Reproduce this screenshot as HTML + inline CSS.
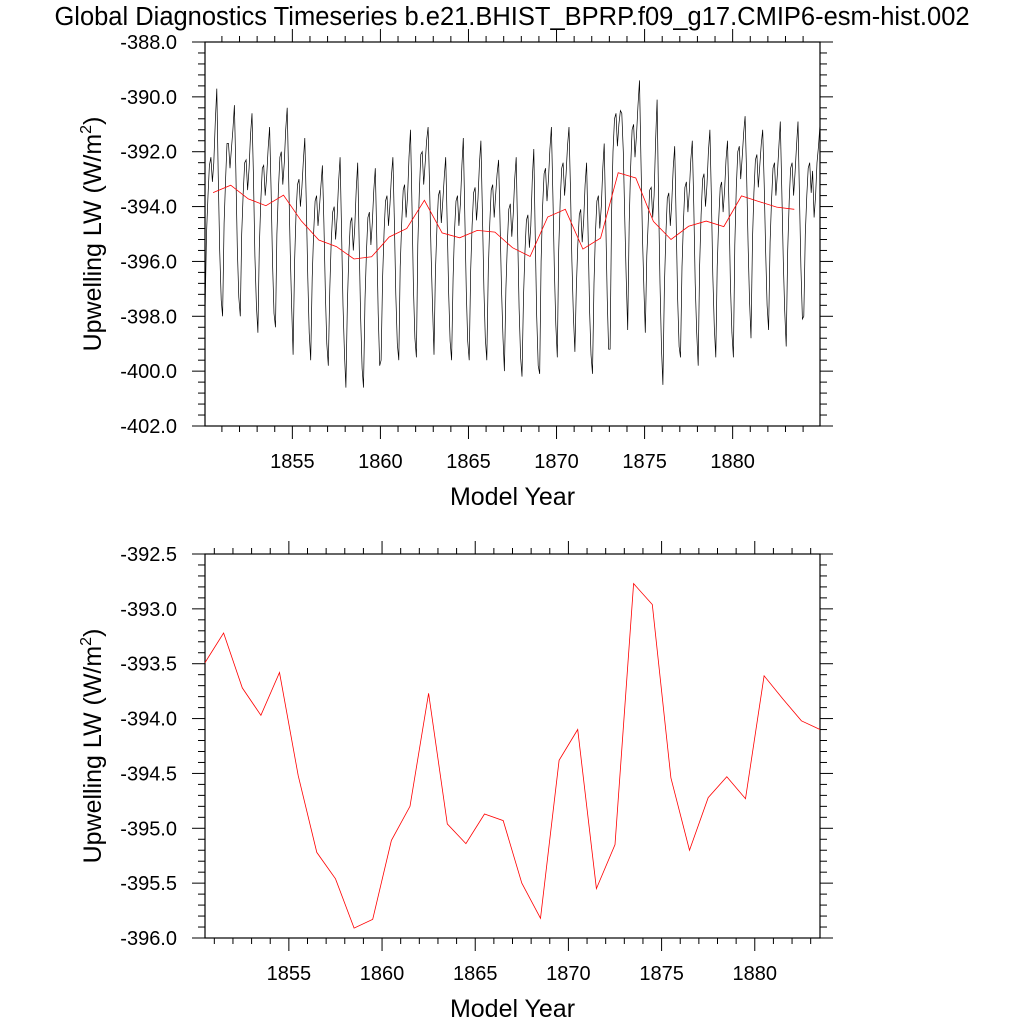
<!DOCTYPE html>
<html><head><meta charset="utf-8">
<style>
html,body{margin:0;padding:0;background:#fff;}
svg text{font-family:"Liberation Sans",sans-serif;fill:#000;}
</style></head>
<body>
<svg id="chart" width="1024" height="1024" viewBox="0 0 1024 1024" xmlns="http://www.w3.org/2000/svg">
<text x="512" y="25" font-size="25.5" text-anchor="middle">Global Diagnostics Timeseries b.e21.BHIST_BPRP.f09_g17.CMIP6-esm-hist.002</text>
<g id="top"></g>
<g id="bot"></g>
</svg>
<script>
const years = [1850,1851,1852,1853,1854,1855,1856,1857,1858,1859,1860,1861,1862,1863,1864,1865,1866,1867,1868,1869,1870,1871,1872,1873,1874,1875,1876,1877,1878,1879,1880,1881,1882,1883,1884];
const monthly = [
[-398.0,-395.0,-393.6,-392.5,-392.2,-393.1,-392.4,-390.9,-389.7,-392.8,-395.6,-397.4],
[-398.0,-394.6,-393.0,-391.7,-391.7,-392.6,-391.9,-391.2,-390.3,-392.6,-395.5,-397.3],
[-398.0,-395.0,-393.5,-392.4,-392.3,-393.4,-392.6,-391.4,-390.6,-393.0,-395.8,-397.6],
[-398.6,-395.5,-393.8,-392.6,-392.5,-393.6,-392.9,-391.9,-391.1,-393.4,-396.0,-397.9],
[-398.4,-395.0,-393.4,-392.2,-392.0,-393.2,-392.4,-391.2,-390.4,-393.0,-395.6,-397.6],
[-399.4,-396.0,-394.3,-393.2,-393.0,-394.0,-393.3,-392.3,-391.5,-393.9,-396.6,-398.6],
[-399.6,-396.6,-395.0,-393.8,-393.6,-394.7,-394.0,-393.2,-392.5,-394.6,-397.2,-399.0],
[-399.8,-397.0,-395.3,-394.2,-394.0,-395.2,-394.4,-393.1,-392.2,-394.8,-397.6,-399.4],
[-400.6,-397.5,-395.7,-394.6,-394.4,-395.6,-394.8,-393.4,-392.4,-395.2,-398.0,-399.9],
[-400.6,-397.4,-395.6,-394.4,-394.2,-395.4,-394.6,-393.4,-392.6,-395.0,-397.9,-399.8],
[-399.6,-396.6,-394.9,-393.8,-393.6,-394.7,-393.9,-392.9,-392.2,-394.6,-397.2,-399.0],
[-399.6,-396.2,-394.6,-393.4,-393.2,-394.4,-393.6,-392.2,-391.2,-394.0,-396.9,-398.8],
[-399.5,-395.4,-393.5,-392.1,-392.0,-393.2,-392.4,-391.6,-391.1,-393.3,-395.6,-397.6],
[-399.4,-396.4,-394.8,-393.6,-393.4,-394.6,-393.8,-392.9,-392.2,-394.6,-397.2,-398.9],
[-399.6,-396.6,-394.9,-393.8,-393.6,-394.7,-393.9,-392.5,-391.5,-394.3,-397.1,-398.9],
[-399.6,-396.3,-394.7,-393.5,-393.3,-394.5,-393.7,-392.4,-391.6,-394.2,-397.0,-398.8],
[-399.6,-396.3,-394.6,-393.4,-393.2,-394.4,-393.6,-392.8,-392.3,-394.5,-397.0,-398.8],
[-400.0,-397.0,-395.3,-394.1,-393.9,-395.1,-394.3,-393.0,-392.2,-394.9,-397.7,-399.5],
[-400.2,-397.3,-395.6,-394.5,-394.3,-395.5,-394.7,-393.0,-391.9,-395.0,-398.0,-399.8],
[-400.1,-396.0,-394.0,-392.8,-392.6,-393.8,-393.0,-391.9,-391.1,-393.6,-396.2,-398.3],
[-399.5,-395.6,-393.8,-392.6,-392.4,-393.6,-392.8,-391.8,-391.1,-393.4,-396.0,-398.0],
[-399.3,-397.0,-395.4,-394.3,-394.1,-395.3,-394.5,-393.2,-392.4,-395.0,-397.8,-399.4],
[-400.1,-396.8,-395.0,-393.8,-393.6,-394.8,-394.0,-392.6,-391.7,-394.4,-397.3,-399.2],
[-399.2,-394.2,-392.0,-390.8,-390.6,-391.8,-391.0,-390.5,-390.6,-392.0,-394.5,-396.6],
[-398.5,-394.6,-392.6,-391.2,-391.0,-392.2,-391.4,-390.3,-389.4,-392.2,-395.0,-397.0],
[-398.6,-395.8,-394.5,-393.4,-393.3,-394.4,-393.6,-391.6,-390.1,-393.6,-396.8,-399.2],
[-400.5,-396.9,-395.0,-393.7,-393.5,-394.7,-393.9,-392.6,-391.8,-394.4,-397.3,-399.1],
[-399.5,-396.2,-394.5,-393.3,-393.1,-394.2,-393.4,-392.3,-391.6,-394.0,-396.8,-398.6],
[-399.8,-396.2,-394.3,-393.0,-392.8,-394.0,-393.2,-392.0,-391.2,-393.7,-396.5,-398.4],
[-399.5,-396.2,-394.5,-393.3,-393.1,-394.2,-393.4,-392.3,-391.6,-394.0,-396.8,-398.6],
[-399.5,-395.4,-393.3,-392.0,-391.8,-393.0,-392.2,-391.3,-390.7,-392.8,-395.4,-397.4],
[-398.8,-395.2,-393.5,-392.3,-392.1,-393.3,-392.5,-391.7,-391.2,-393.2,-395.7,-397.6],
[-398.5,-395.3,-393.8,-392.6,-392.4,-393.6,-392.8,-391.8,-390.9,-393.4,-396.0,-397.8],
[-399.1,-395.6,-393.8,-392.6,-392.4,-393.6,-392.8,-391.8,-390.9,-393.5,-396.2,-398.1],
[-398.0,-395.0,-393.6,-392.6,-392.4,-393.5,-392.7,-394.4,-393.6,-392.4,-391.8,-391.0]
];
const annualYears = [1850,1851,1852,1853,1854,1855,1856,1857,1858,1859,1860,1861,1862,1863,1864,1865,1866,1867,1868,1869,1870,1871,1872,1873,1874,1875,1876,1877,1878,1879,1880,1881,1882,1883];
const annual = [-393.49,-393.22,-393.72,-393.97,-393.58,-394.52,-395.22,-395.46,-395.91,-395.83,-395.11,-394.80,-393.77,-394.96,-395.14,-394.87,-394.93,-395.50,-395.82,-394.38,-394.10,-395.55,-395.15,-392.77,-392.96,-394.54,-395.20,-394.72,-394.53,-394.73,-393.61,-393.82,-394.02,-394.10];
const xTicks = [1855,1860,1865,1870,1875,1880];
const topYTicks = [-388,-390,-392,-394,-396,-398,-400,-402];
const botYTicks = [-392.5,-393,-393.5,-394,-394.5,-395,-395.5,-396];

const NS='http://www.w3.org/2000/svg';
function mk(parent, tag, attrs){const e=document.createElementNS(NS,tag);for(const k in attrs)e.setAttribute(k,attrs[k]);parent.appendChild(e);return e;}

function panel(g, top, x0, x1, y0, y1, yStep, yMinor, name){
  const L=205,R=820,T=top,B=top+384;
  const sx=v=>L+(v-x0)/(x1-x0)*(R-L);
  const sy=v=>T+(y0-v)/(y0-y1)*(B-T);
  for(let yr=Math.ceil(x0); yr<=x1; yr++){
    const X=sx(yr); const major=yr%5===0; const len=major?13:6;
    const t1=mk(g,'line',{x1:X,y1:B,x2:X,y2:B+len,stroke:'#000','stroke-width':1});
    
    
    const t2=mk(g,'line',{x1:X,y1:T,x2:X,y2:T-len,stroke:'#000','stroke-width':1});
    
    
  }
  xTicks.forEach(v=>{
    const t=mk(g,'text',{x:sx(v),y:B+42,'font-size':20,'text-anchor':'middle'});t.textContent=v;
    
    
  });
  const n=Math.round((y0-y1)/yMinor);
  const per=Math.round(yStep/yMinor);
  for(let i=0;i<=n;i++){
    const v=y0-i*yMinor; const Y=sy(v); const major=(i%per)===0; const len=major?13:7;
    const a=mk(g,'line',{x1:L,y1:Y,x2:L-len,y2:Y,stroke:'#000','stroke-width':1});
    
    
    const b=mk(g,'line',{x1:R,y1:Y,x2:R+len,y2:Y,stroke:'#000','stroke-width':1});
    
    
  }
  (name==='top'?topYTicks:botYTicks).forEach(v=>{
    const t=mk(g,'text',{x:L-28,y:sy(v)+7,'font-size':20,'text-anchor':'end'});t.textContent=v.toFixed(1);
    
    
  });
  const fr=mk(g,'rect',{x:L,y:T,width:R-L,height:B-T,fill:'none',stroke:'#000','stroke-width':1.2});
  
  
  const xl=mk(g,'text',{x:(L+R)/2,y:B+79,'font-size':25,'text-anchor':'middle'});xl.textContent='Model Year';
  
  
  const yl=mk(g,'text',{transform:`translate(${L-104},${(T+B)/2}) rotate(-90)`,'font-size':25,'text-anchor':'middle'});
  yl.innerHTML='Upwelling LW (W/m<tspan dy="-10" font-size="16">2</tspan><tspan dy="10">)</tspan>';
  
  
  return {sx,sy};
}

const gt=document.getElementById('top');
const a=panel(gt,42,1850.04,1884.96,-388,-402,2,0.4,'top');
let pts=[];
years.forEach((yr,i)=>monthly[i].forEach((v,m)=>pts.push(a.sx(yr+(m+0.5)/12).toFixed(1)+','+a.sy(v).toFixed(1))));
const ml=mk(gt,'polyline',{points:pts.join(' '),fill:'none',stroke:'#000','stroke-width':0.7});


const ap=annualYears.map((yr,i)=>a.sx(yr+0.5).toFixed(1)+','+a.sy(annual[i]).toFixed(1)).join(' ');
const al=mk(gt,'polyline',{points:ap,fill:'none',stroke:'#f00','stroke-width':0.8});



const gb=document.getElementById('bot');
const b=panel(gb,554,1850.5,1883.5,-392.5,-396,0.5,0.1,'bot');
const bp=annualYears.map((yr,i)=>b.sx(yr+0.5).toFixed(1)+','+b.sy(annual[i]).toFixed(1)).join(' ');
const bl=mk(gb,'polyline',{points:bp,fill:'none',stroke:'#f00','stroke-width':0.8});


</script>
</body></html>
